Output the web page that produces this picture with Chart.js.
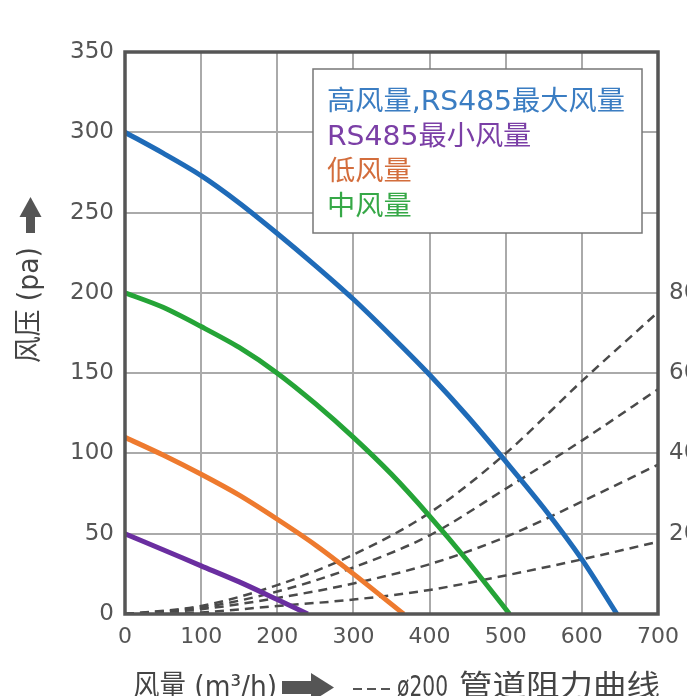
<!DOCTYPE html>
<html>
<head>
<meta charset="utf-8">
<script src="https://cdn.jsdelivr.net/npm/chart.js@4.4.1/dist/chart.umd.min.js"></script>
<style>
  html, body { margin: 0; padding: 0; background: #fff; }
  #wrap { position: relative; width: 689px; height: 696px; }
</style>
</head>
<body>
<div id="wrap"><canvas id="fanChart"></canvas></div>
<script>
// fan curves: flow (m3/h) and pressure (pa)
const highFlow = [0, 50, 100, 150, 200, 250, 300, 350, 400, 450, 500, 550, 600, 646];
const highPa   = [300, 287, 273, 256, 237, 217, 196, 173, 149, 123, 95, 66, 34, 0];
const midFlow  = [0, 50, 100, 150, 200, 250, 300, 350, 400, 450, 505];
const midPa    = [200, 191, 179, 166, 150, 131, 110, 87, 61, 33, 0];
const lowFlow  = [0, 50, 100, 150, 200, 250, 300, 366];
const lowPa    = [110, 99, 87, 74, 59, 43, 25, 0];
const minFlow  = [0, 50, 100, 150, 200, 240];
const minPa    = [50, 40, 30, 20, 9, 0];

// duct resistance curves (dashed)
const ductFlow = [0, 100, 200, 300, 400, 500, 600, 700];
const duct80   = [0, 5, 18, 37, 63, 100, 145, 188];
const duct60   = [0, 4, 14, 29, 49, 78, 108, 140];
const duct40   = [0, 3, 10, 19, 31, 48, 70, 93];
const duct20   = [0, 1, 5, 9, 15, 24, 34, 45];

const xTicks = [0, 100, 200, 300, 400, 500, 600, 700];
const yTicks = [0, 50, 100, 150, 200, 250, 300, 350];
const rightTicks = [20, 40, 60, 80];

const legendLabels = ['高风量,RS485最大风量', 'RS485最小风量', '低风量', '中风量'];
const legendColors = ['#3b7dc2', '#7b3fa6', '#d36d3c', '#36a847'];

const CJK = '"DejaVu Sans", "Noto Sans CJK SC", sans-serif';

function pts(xs, ys) {
    return xs.map((x, i) => ({ x: x, y: ys[i] }));
}

function solid(label, xs, ys, color) {
    return {
        label: label,
        data: pts(xs, ys),
        borderColor: color,
        borderWidth: 5,
        pointRadius: 0,
        tension: 0.3,
        fill: false
    };
}

function dashed(label, ys) {
    return {
        label: label,
        data: pts(ductFlow, ys),
        borderColor: '#4a4a4a',
        borderWidth: 2.5,
        borderDash: [9, 6],
        pointRadius: 0,
        cubicInterpolationMode: 'monotone',
        fill: false
    };
}

// draw text squeezed/stretched to a given width
function fitText(ctx, text, x, y, width) {
    const w = ctx.measureText(text).width;
    ctx.save();
    ctx.translate(x, y);
    ctx.scale(width / w, 1);
    ctx.fillText(text, 0, 0);
    ctx.restore();
}

const decorPlugin = {
    id: 'decor',
    afterDatasetsDraw(chart) {
        const ctx = chart.ctx;
        const a = chart.chartArea;

        // plot frame
        ctx.save();
        ctx.strokeStyle = '#555';
        ctx.lineWidth = 3.5;
        ctx.strokeRect(a.left, a.top, a.right - a.left, a.bottom - a.top);

        // legend box
        ctx.fillStyle = '#fff';
        ctx.fillRect(313, 69, 329, 164);
        ctx.strokeStyle = '#777';
        ctx.lineWidth = 1.5;
        ctx.strokeRect(313, 69, 329, 164);

        ctx.font = '27px ' + CJK;
        ctx.textBaseline = 'middle';
        ctx.textAlign = 'left';
        const base = ctx.measureText(legendLabels[0]).width;
        const sx = 298 / base;
        legendLabels.forEach((t, i) => {
            ctx.fillStyle = legendColors[i];
            fitText(ctx, t, 327, 103 + i * 35, ctx.measureText(t).width * sx);
        });

        // y title with arrow
        ctx.fillStyle = '#444';
        ctx.save();
        ctx.translate(31, 363);
        ctx.rotate(-Math.PI / 2);
        ctx.font = '28px ' + CJK;
        ctx.textBaseline = 'middle';
        fitText(ctx, '风压 (pa)', 0, 0, 116);
        ctx.restore();

        ctx.fillStyle = '#555';
        ctx.fillRect(26, 216, 9, 17);
        ctx.beginPath();
        ctx.moveTo(19.5, 217);
        ctx.lineTo(41.5, 217);
        ctx.lineTo(30.5, 197);
        ctx.closePath();
        ctx.fill();

        // bottom title
        ctx.fillStyle = '#444';
        ctx.font = '29px ' + CJK;
        ctx.textBaseline = 'middle';
        fitText(ctx, '风量 (m³/h)', 133, 688, 144);
        ctx.fillStyle = '#555';
        ctx.fillRect(282, 681, 30, 13);
        ctx.beginPath();
        ctx.moveTo(311, 673);
        ctx.lineTo(334, 687.5);
        ctx.lineTo(311, 702);
        ctx.closePath();
        ctx.fill();

        ctx.strokeStyle = '#555';
        ctx.lineWidth = 2;
        ctx.setLineDash([9, 5]);
        ctx.beginPath();
        ctx.moveTo(353, 689);
        ctx.lineTo(392, 689);
        ctx.stroke();
        ctx.setLineDash([]);

        ctx.fillStyle = '#444';
        fitText(ctx, 'ø200', 397, 688, 51);
        fitText(ctx, '管道阻力曲线', 459, 688, 201);
        ctx.restore();
    }
};

new Chart(document.getElementById('fanChart'), {
    type: 'line',
    data: {
        datasets: [
            solid(legendLabels[0], highFlow, highPa, '#1f6bb8'),
            solid(legendLabels[3], midFlow, midPa, '#25a437'),
            solid(legendLabels[2], lowFlow, lowPa, '#ee7a2e'),
            solid(legendLabels[1], minFlow, minPa, '#6a2ea0'),
            dashed('80', duct80),
            dashed('60', duct60),
            dashed('40', duct40),
            dashed('20', duct20)
        ]
    },
    options: {
        responsive: true,
        maintainAspectRatio: false,
        animation: false,
        layout: { padding: { top: 52, left: 0, right: 0, bottom: 0 } },
        plugins: {
            legend: { display: false },
            tooltip: { enabled: false }
        },
        scales: {
            x: {
                type: 'linear',
                min: 0,
                max: 700,
                afterBuildTicks: s => { s.ticks = xTicks.map(v => ({ value: v })); },
                afterFit: s => { s.height = 82; },
                ticks: {
                    color: '#555',
                    padding: 10,
                    font: { family: 'DejaVu Sans', size: 22 }
                },
                grid: { color: '#aaa', lineWidth: 2, drawTicks: false },
                border: { display: false }
            },
            y: {
                min: 0,
                max: 350,
                afterBuildTicks: s => { s.ticks = yTicks.map(v => ({ value: v })); },
                afterFit: s => { s.width = 125; },
                ticks: {
                    color: '#555',
                    padding: 11,
                    font: { family: 'DejaVu Sans', size: 23 }
                },
                grid: { color: '#aaa', lineWidth: 2, drawTicks: false },
                border: { display: false }
            },
            y2: {
                position: 'right',
                min: 0,
                max: 140,
                afterBuildTicks: s => { s.ticks = rightTicks.map(v => ({ value: v })); },
                afterFit: s => { s.width = 29; },
                ticks: {
                    color: '#555',
                    padding: 11,
                    font: { family: 'DejaVu Sans', size: 23 }
                },
                grid: { display: false, drawTicks: false },
                border: { display: false }
            }
        }
    },
    plugins: [decorPlugin]
});
</script>
</body>
</html>
